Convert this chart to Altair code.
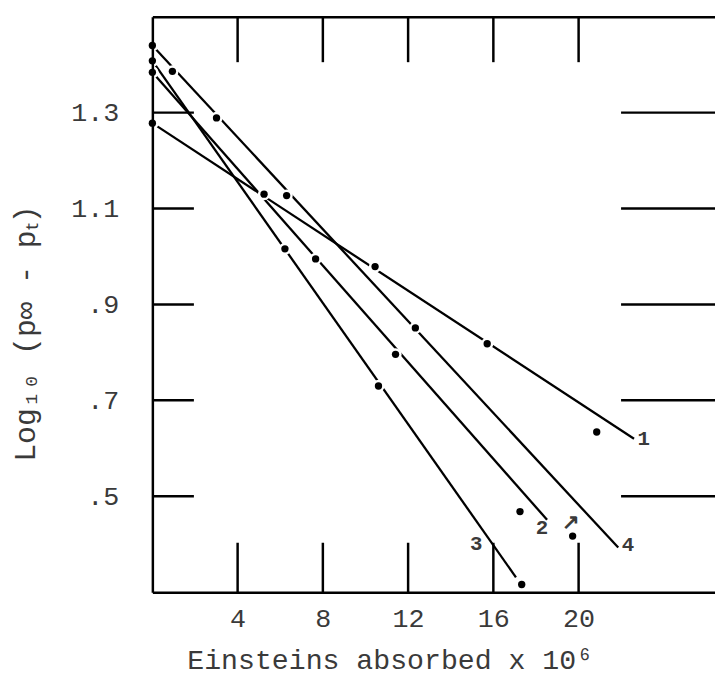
import altair as alt
import pandas as pd

# ---- data ----
line_ids = ["1", "2", "3", "4"]
line_x0 = [0.0, 0.0, 0.0, 0.0]
line_y0 = [1.278, 1.384, 1.408, 1.440]
line_x1 = [22.6, 18.52, 17.06, 21.86]
line_y1 = [0.620, 0.451, 0.331, 0.393]

point_x = [0, 0, 0, 0, 0.94, 3.01, 5.24, 6.30, 6.22, 7.66, 10.45, 12.34, 15.71,
           11.41, 10.61, 20.85, 17.25, 19.72, 17.33]
point_y = [1.440, 1.408, 1.384, 1.278, 1.386, 1.289, 1.130, 1.127, 1.016, 0.995,
           0.979, 0.851, 0.818, 0.796, 0.730, 0.634, 0.468, 0.417, 0.316]

label_text = ["1", "2", "3", "4", "↗"]
label_x = [23.06, 18.28, 15.2, 22.32, 19.63]
label_y = [0.620, 0.434, 0.400, 0.399, 0.444]

x_ticks = [4, 8, 12, 16, 20]
y_ticks = [0.5, 0.7, 0.9, 1.1, 1.3]
x_domain = [0, 26.4]
y_domain = [0.3, 1.5]

W, H = 569, 582
FONT = "Liberation Mono"
INK = "#3a3a3a"

lines_df = pd.DataFrame({
    "id": line_ids * 2,
    "x": line_x0 + line_x1,
    "y": line_y0 + line_y1,
})
pts_df = pd.DataFrame({"x": point_x, "y": point_y})
lab_df = pd.DataFrame({"t": label_text, "x": label_x, "y": label_y})
xt_df = pd.DataFrame({"v": x_ticks})
yt_df = pd.DataFrame({"v": y_ticks})

xs = alt.Scale(domain=x_domain, nice=False, zero=False)
ys = alt.Scale(domain=y_domain, nice=False, zero=False)

x_axis = alt.Axis(
    values=x_ticks, ticks=False, tickSize=0, grid=False, domainColor="black",
    domainWidth=2.5, labelFont=FONT, labelFontSize=27, labelColor=INK,
    labelPadding=14, title="Einsteins absorbed x 10⁶", titleFont=FONT,
    titleFontSize=28.5, titleFontWeight="normal", titleColor=INK, titleX=240,
    titleY=77, titleAlign="center", titleBaseline="alphabetic", zindex=1,
)
y_axis = alt.Axis(
    values=y_ticks, ticks=False, tickSize=0, grid=False, domainColor="black",
    domainWidth=2.5, labelFont=FONT, labelFontSize=27, labelColor=INK,
    labelPadding=34,
    labelExpr="datum.value < 1 ? '.' + round(datum.value * 10) : format(datum.value, '.1f')",
    title="Log₁₀ (p∞ - pₜ)", titleFont=FONT, titleFontSize=30,
    titleFontWeight="normal", titleColor=INK, titleAngle=-90, titleX=-128,
    titleY=320, titleAlign="center", titleBaseline="middle", zindex=1,
)
top_axis = alt.Axis(orient="top", labels=False, ticks=False, tickSize=0,
                    grid=False, domainColor="black", domainWidth=2.5,
                    title=None, zindex=1)

lines = alt.Chart(lines_df).mark_line(color="black", strokeWidth=2.3).encode(
    x=alt.X("x:Q", scale=xs, axis=x_axis),
    y=alt.Y("y:Q", scale=ys, axis=y_axis),
    detail="id:N",
)
top = alt.Chart(xt_df).mark_rule(color="black", strokeWidth=2.5).encode(
    x=alt.X("v:Q", scale=xs, axis=top_axis),
    y=alt.value(0), y2=alt.value(46),
)
bottom_ticks = alt.Chart(xt_df).mark_rule(color="black", strokeWidth=2.5).encode(
    x=alt.X("v:Q", scale=xs, axis=None), y=alt.value(H), y2=alt.value(H - 50),
)
left_ticks = alt.Chart(yt_df).mark_rule(color="black", strokeWidth=2.5).encode(
    y=alt.Y("v:Q", scale=ys), x=alt.value(0), x2=alt.value(42),
)
right_ticks = alt.Chart(yt_df).mark_rule(color="black", strokeWidth=2.5).encode(
    y=alt.Y("v:Q", scale=ys), x=alt.value(474), x2=alt.value(W),
)
points = alt.Chart(pts_df).mark_point(
    filled=True, shape="circle", size=55, fill="black", fillOpacity=1,
    stroke="white", strokeWidth=5, strokeOpacity=1,
).encode(x=alt.X("x:Q", scale=xs, axis=None), y=alt.Y("y:Q", scale=ys))
points_core = alt.Chart(pts_df).mark_circle(size=55, color="black", opacity=1).encode(
    x=alt.X("x:Q", scale=xs, axis=None), y=alt.Y("y:Q", scale=ys))
labels = alt.Chart(lab_df).mark_text(
    font=FONT, fontSize=21, fontWeight="bold", color=INK, align="center",
    baseline="middle",
).encode(x=alt.X("x:Q", scale=xs, axis=None), y=alt.Y("y:Q", scale=ys), text="t:N")

chart = alt.layer(
    lines, top, bottom_ticks, left_ticks, right_ticks, points, points_core, labels
).resolve_axis(x="independent").properties(
    width=W, height=H,
    autosize=alt.AutoSizeParams(type="none"),
    padding={"left": 146, "top": 5, "right": 0, "bottom": 84},
).configure_view(stroke=None).configure(background="white")

chart.save("out.html", embed_options={"renderer": "svg", "actions": False})
